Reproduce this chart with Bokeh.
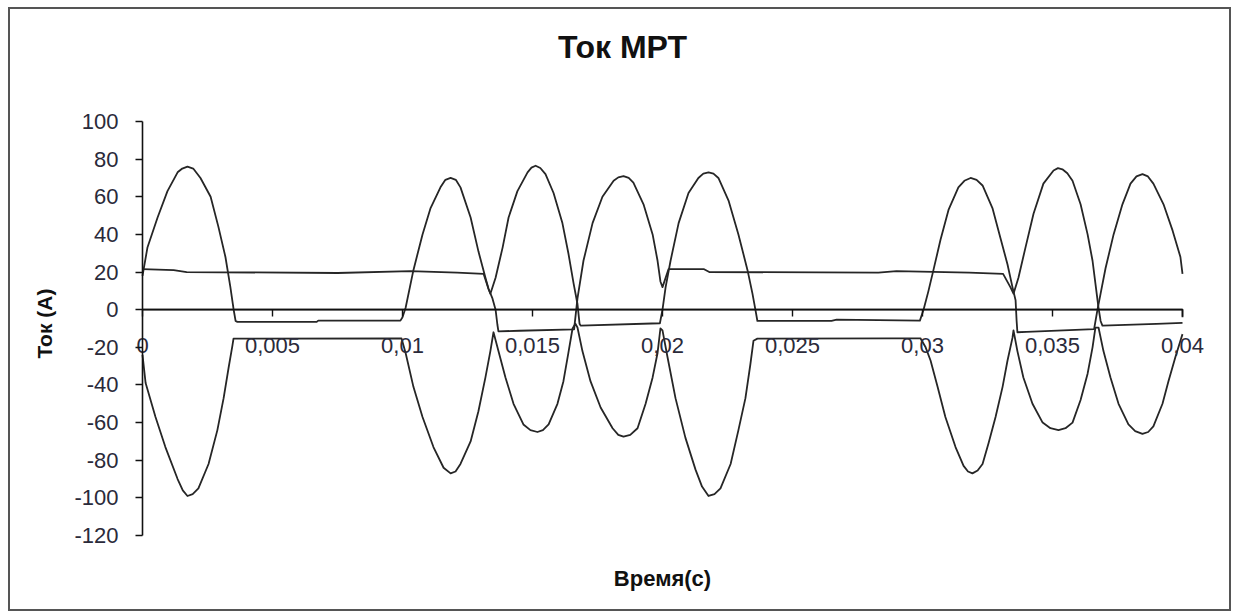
import math
from bokeh.plotting import figure
from bokeh.models import Range1d, FixedTicker, Label, ColumnDataSource
from bokeh.embed import file_html
from bokeh.resources import INLINE

# ---------------- data ----------------
title_text = "Ток МРТ"
x_label = "Время(с)"
y_label = "Ток (А)"

x_ticks = [0, 0.005, 0.01, 0.015, 0.02, 0.025, 0.03, 0.035, 0.04]
x_tick_labels = ["0", "0,005", "0,01", "0,015", "0,02", "0,025", "0,03", "0,035", "0,04"]
y_ticks = [-120, -100, -80, -60, -40, -20, 0, 20, 40, 60, 80, 100]
y_tick_labels = ["-120", "-100", "-80", "-60", "-40", "-20", "0", "20", "40", "60", "80", "100"]

# trace A
t_a = [0, 0.00019, 0.00058, 0.00096, 0.00135, 0.00153, 0.00173, 0.00195, 0.00223, 0.00262, 0.00292, 0.00319, 0.00338, 0.0035, 0.00358,
       0.00365, 0.0067, 0.00676, 0.00992,
       0.01, 0.01012, 0.01042, 0.01077, 0.01108, 0.01146, 0.01165, 0.01185, 0.01205, 0.01223, 0.01262, 0.01292, 0.01319, 0.01331, 0.01346, 0.01358, 0.01365, 0.01369,
       0.0145, 0.0166,
       0.01673, 0.01696, 0.01731, 0.01769, 0.01812, 0.0183, 0.0185, 0.0187, 0.01888, 0.01927, 0.01962, 0.01981, 0.01992, 0.02,
       0.02023, 0.0216, 0.0218, 0.0283, 0.029, 0.0318, 0.0331, 0.03338, 0.0335,
       0.03369, 0.03396, 0.03427, 0.03465, 0.03504, 0.03521, 0.03538, 0.03557, 0.03577, 0.03608, 0.03635, 0.03654, 0.03665, 0.03677, 0.03685,
       0.03692, 0.039, 0.04]
i_a = [18, 33, 49, 63, 73, 75, 76, 75, 70, 60, 44, 28, 12, 0.5, -6,
       -6.5, -6.5, -5.8, -5.8,
       -4, 1, 21, 40, 54, 65, 69, 70, 69, 65, 49, 31, 17, 11, 6, 0, -8, -11.5,
       -11.2, -10.5,
       6, 26, 46, 60, 68.5, 70.3, 71, 70, 67.5, 56, 40, 26, 15, 12,
       21.5, 21.5, 20, 19.7, 20.5, 19.7, 19, 12, 8.5,
       17, 33, 51, 67, 74, 75.2, 74.6, 72.5, 68.5, 56, 40, 26, 14, 1, -6,
       -8.5, -7.5, -7]

# trace B
t_b = [0, 0.00012, 0.0005, 0.00088, 0.00135, 0.00155, 0.00173, 0.00193, 0.00215, 0.00254, 0.00288, 0.00312, 0.00331, 0.00346, 0.0035,
       0.0037, 0.00996,
       0.01012, 0.01042, 0.01077, 0.01119, 0.01158, 0.01185, 0.01204, 0.01223, 0.01262, 0.01292, 0.01319, 0.01338, 0.0135,
       0.01369, 0.01396, 0.01427, 0.01465, 0.01492, 0.01519, 0.0154, 0.01562, 0.01596, 0.01619, 0.01638, 0.01654, 0.01665,
       0.01673, 0.01692, 0.01723, 0.01762, 0.01808, 0.0183, 0.0185, 0.01876, 0.01904, 0.01935, 0.01962, 0.01981, 0.01992,
       0.02, 0.02019, 0.0205, 0.02088, 0.02127, 0.02152, 0.02177, 0.022, 0.02223, 0.02262, 0.02292, 0.02319, 0.02338, 0.0235,
       0.02365, 0.0288, 0.02992,
       0.03012, 0.03031, 0.03058, 0.03088, 0.03127, 0.03158, 0.03175, 0.03192, 0.03212, 0.03231, 0.03254, 0.03281, 0.03308, 0.03327, 0.03346, 0.0335,
       0.03365, 0.03388, 0.03423, 0.03462, 0.03492, 0.03523, 0.0355, 0.03577, 0.03608, 0.03635, 0.03654, 0.03665,
       0.03677, 0.03696, 0.03723, 0.03754, 0.03792, 0.03818, 0.03846, 0.03868, 0.03888, 0.03923, 0.03946, 0.03973, 0.03992, 0.04]
i_b = [-24, -39, -57, -73, -90, -96, -99, -98, -95, -82, -64, -47, -31, -19, -15.4,
       -15.4, -15.2,
       -23, -41, -57, -73, -84, -87, -86, -82, -70, -54, -36, -22, -12,
       -22, -36, -50, -61, -64, -65, -64, -61, -50, -38, -23, -10, -7.5,
       -9.5, -22, -38, -52, -63, -66.5, -67.5, -66.5, -63, -50, -36, -23, -10,
       -11, -25, -47, -68, -85, -94, -99, -98, -95, -82, -64, -47, -29, -16.5,
       -15.4, -15.2, -15.2,
       -20, -27, -41, -57, -73, -83, -86, -87, -85.5, -82, -71, -57, -41, -27, -15, -11,
       -22, -36, -50, -60, -63, -64, -63, -60, -48, -34, -20, -9.5,
       -9.5, -22, -36, -50, -61, -64.5, -66, -65, -62, -50, -38, -25, -16.5, -13]

# trace C
t_c = [0, 0.0012, 0.0017, 0.0075, 0.0103, 0.0121, 0.01312, 0.01331, 0.01338,
       0.01358, 0.01385, 0.01408, 0.01442, 0.01481, 0.01496, 0.01512, 0.0153, 0.0155, 0.01581, 0.01615, 0.01638, 0.01658, 0.01673, 0.01681,
       0.01685, 0.0199,
       0.02, 0.02012, 0.02031, 0.02062, 0.021, 0.02138, 0.02157, 0.02177, 0.02196, 0.02215, 0.02254, 0.02292, 0.02327, 0.02346, 0.02358, 0.02365,
       0.0237, 0.0265, 0.0267, 0.0299,
       0.03004, 0.03023, 0.03042, 0.03069, 0.031, 0.03138, 0.03161, 0.03185, 0.03208, 0.03231, 0.03269, 0.033, 0.03327, 0.03346, 0.03358, 0.03362, 0.03365,
       0.034, 0.0366,
       0.03673, 0.03685, 0.03704, 0.03735, 0.03769, 0.038, 0.03823, 0.03846, 0.03867, 0.03888, 0.03927, 0.03962, 0.03992, 0.04]
i_c = [21.5, 21, 20, 19.5, 20.5, 19.7, 19, 11, 8.5,
       17, 33, 49, 63, 73, 75.5, 76.5, 75.3, 72, 62, 46, 30, 14, 3, -7.5,
       -8.5, -7.2,
       0, 12, 26, 46, 62, 70, 72.3, 73, 72.3, 70, 58, 40, 21, 8.5, -0.5, -6,
       -6, -6, -5.3, -5.8,
       0, 10, 21, 37, 53, 65, 68.5, 70, 69, 66, 54, 38, 24, 12, 5, -6, -12,
       -11.8, -10.3,
       0, 8.5, 22, 40, 56, 67, 70.8, 72, 70.8, 67, 56, 42, 28, 19]

# near-zero trace
t_n = [0, 0.04, 0.04]
i_n = [0, 0, -4]

# ---------------- figure ----------------
W, H = 1223, 604
FL, FR, FT, FB = 132, 1172, 112, 526          # where x=0, x=0.04, y=100, y=-120 land (canvas px)
XPX = (FR - FL) / (x_ticks[-1] - x_ticks[0])
YPX = (FB - FT) / (y_ticks[-1] - y_ticks[0])

FONT = "Liberation Sans"
INK = "#111111"

p = figure(width=W, height=H,
           x_range=Range1d(x_ticks[0] - FL / XPX, x_ticks[-1] + (W - FR) / XPX),
           y_range=Range1d(y_ticks[0] - (H - FB) / YPX, y_ticks[-1] + FT / YPX),
           output_backend="svg", toolbar_location=None,
           min_border_left=0, min_border_right=0, min_border_top=0, min_border_bottom=0)
p.styles = {"border": "2px solid #555555", "margin-left": "8px", "margin-top": "7px"}
p.title.visible = False
p.outline_line_color = None
p.xgrid.visible = False
p.ygrid.visible = False
p.background_fill_color = "white"
p.border_fill_color = "white"

for t, i in [(t_a, i_a), (t_b, i_b), (t_c, i_c), (t_n, i_n)]:
    src = ColumnDataSource(data=dict(t=t, i=i))
    p.line("t", "i", source=src, line_color="#262626", line_width=1.8, line_join="round")

# x axis through zero
xa = p.xaxis[0]
xa.fixed_location = 0
xa.bounds = (x_ticks[0], x_ticks[-1])
xa.ticker = FixedTicker(ticks=x_ticks)
xa.major_label_overrides = {k: v for k, v in zip(x_ticks, x_tick_labels)}
xa.minor_tick_line_color = None
xa.major_tick_in = 0
xa.major_tick_out = 7
xa.major_label_standoff = 21
xa.axis_line_color = "#111111"
xa.axis_line_width = 1.6
xa.major_tick_line_color = "#111111"
xa.major_tick_line_width = 1.4
xa.major_label_text_font = FONT
xa.major_label_text_font_size = "22px"
xa.major_label_text_color = "#2a2a3a"

# y axis through x = 0
ya = p.yaxis[0]
ya.fixed_location = 0
ya.bounds = (y_ticks[0], y_ticks[-1])
ya.ticker = FixedTicker(ticks=y_ticks)
ya.major_label_overrides = {k: v for k, v in zip(y_ticks, y_tick_labels)}
ya.minor_tick_line_color = None
ya.major_tick_in = 0
ya.major_tick_out = 7
ya.major_label_standoff = 17
ya.axis_line_color = "#111111"
ya.axis_line_width = 1.6
ya.major_tick_line_color = "#111111"
ya.major_tick_line_width = 1.4
ya.major_label_text_font = FONT
ya.major_label_text_font_size = "22px"
ya.major_label_text_color = "#2a2a3a"

# texts, placed in canvas pixels converted to data units
def dx(px):
    return x_ticks[0] + (px - FL) / XPX

def dy(py):
    return y_ticks[-1] - (py - FT) / YPX

p.add_layout(Label(x=dx(612), y=dy(37), text=title_text,
                   text_font=FONT, text_font_size="32px", text_font_style="bold",
                   text_color=INK, text_align="center", text_baseline="middle"))
p.add_layout(Label(x=dx(652), y=dy(569), text=x_label,
                   text_font=FONT, text_font_size="22px", text_font_style="bold",
                   text_color=INK, text_align="center", text_baseline="middle"))
p.add_layout(Label(x=dx(34), y=dy(314), text=y_label,
                   angle=math.pi / 2, text_font=FONT, text_font_size="21px", text_font_style="bold",
                   text_color=INK, text_align="center", text_baseline="middle"))

open("out.html", "w").write(file_html(p, INLINE))
